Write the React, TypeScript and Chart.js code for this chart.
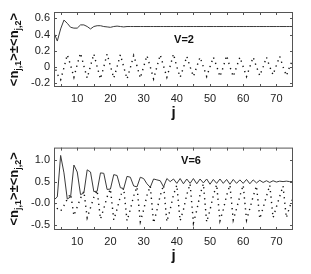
import React, { useEffect, useRef } from "react";
import { Chart, registerables } from "chart.js";

Chart.register(...registerables);

const J = [3, 4, 5, 6, 7, 8, 9, 10, 11, 12, 13, 14, 15, 16, 17, 18, 19, 20, 21, 22, 23, 24, 25, 26, 27, 28, 29, 30, 31, 32, 33, 34, 35, 36, 37, 38, 39, 40, 41, 42, 43, 44, 45, 46, 47, 48, 49, 50, 51, 52, 53, 54, 55, 56, 57, 58, 59, 60, 61, 62, 63, 64, 65, 66, 67, 68, 69, 70, 71, 72, 73, 74, 75];

// V=2
const V2_SUM = [0.42, 0.32, 0.47, 0.58, 0.54, 0.49, 0.48, 0.48, 0.52, 0.52, 0.5, 0.47, 0.5, 0.51, 0.51, 0.5, 0.495, 0.49, 0.5, 0.505, 0.5, 0.495,
  0.5, 0.5, 0.5, 0.5, 0.5, 0.5, 0.5, 0.5, 0.5, 0.5, 0.5, 0.5, 0.5, 0.5, 0.5, 0.5, 0.5, 0.5, 0.5, 0.5, 0.5, 0.5, 0.5, 0.5, 0.5, 0.5, 0.5, 0.5, 0.5,
  0.5, 0.5, 0.5, 0.5, 0.5, 0.5, 0.5, 0.5, 0.5, 0.5, 0.5, 0.5, 0.5, 0.5, 0.5, 0.5, 0.5, 0.5, 0.5, 0.5, 0.5, 0.5];
const V2_DIFF = [0.03, -0.09, -0.16, -0.01, 0.15, 0.02, -0.13, 0.03, 0.17, 0.01, -0.14, 0.01, 0.16, 0.0, -0.15, 0.0, 0.16, 0.01, -0.14, 0.0,
  0.15, 0.0, -0.15, -0.01, 0.14, 0.01, -0.14, 0.0, 0.14, 0.0, -0.15, 0.0, 0.15, 0.01, -0.13, 0.01, 0.16, 0.0, -0.13, -0.01,
  0.13, 0.0, -0.12, 0.0, 0.12, 0.0, -0.12, 0.0, 0.12, 0.01, -0.12, 0.0, 0.14, 0.0, -0.12, 0.0, 0.12, 0.0, -0.12, 0.0,
  0.12, 0.0, -0.11, 0.0, 0.12, 0.0, -0.1, 0.02, 0.13, 0.0, -0.11, 0.0, 0.1];

// V=6
const V6_SUM = [0.08, 0.15, 1.1, 0.7, 0.1, 0.15, 0.88, 0.72, 0.2, 0.24, 0.77, 0.72, 0.27, 0.28, 0.7, 0.69, 0.32, 0.33, 0.66, 0.64,
  0.36, 0.34, 0.62, 0.6, 0.4, 0.38, 0.6, 0.57, 0.45, 0.37, 0.56, 0.54, 0.52, 0.38, 0.57, 0.5, 0.56, 0.46, 0.57, 0.45,
  0.56, 0.46, 0.57, 0.45, 0.56, 0.47, 0.56, 0.44, 0.55, 0.46, 0.56, 0.46, 0.55, 0.44, 0.55, 0.46, 0.54, 0.46, 0.55, 0.45,
  0.54, 0.47, 0.53, 0.48, 0.52, 0.48, 0.52, 0.49, 0.51, 0.5, 0.51, 0.5, 0.5];
const V6_DIFF = [0.0, -0.12, -0.18, -0.05, 0.1, 0.22, -0.28, -0.08, 0.12, 0.28, -0.33, -0.1, 0.14, 0.3, -0.36, -0.12, 0.15, 0.33, -0.38, -0.13,
  0.16, 0.35, -0.4, -0.14, 0.17, 0.38, -0.42, -0.15, 0.18, 0.4, -0.45, -0.16, 0.18, 0.42, -0.42, -0.14, 0.2, 0.42, -0.4, -0.14,
  0.2, 0.45, -0.45, -0.16, 0.2, 0.45, -0.43, -0.15, 0.18, 0.43, -0.4, -0.14, 0.18, 0.42, -0.38, -0.12, 0.17, 0.42, -0.38, -0.12,
  0.16, 0.4, -0.35, -0.1, 0.16, 0.42, -0.33, -0.08, 0.16, 0.4, -0.33, -0.08, 0.12];

const X_TICKS = [10, 20, 30, 40, 50, 60, 70];
const X_MINOR = [5, 10, 15, 20, 25, 30, 35, 40, 45, 50, 55, 60, 65, 70, 75];
const Y2_TICKS = [-0.2, 0, 0.2, 0.4, 0.6];
const Y2_LABELS = ["-0.2", "0", "0.2", "0.4", "0.6"];
const Y6_TICKS = [-0.5, 0, 0.5, 1.0];
const Y6_LABELS = ["-0.5", "-0.0", "0.5", "1.0"];

const FONT = "'Liberation Sans', Arial, Helvetica, sans-serif";

type Cfg = {
  sum: number[];
  diff: number[];
  yMin: number;
  yMax: number;
  yTicks: number[];
  yLabels: string[];
  label: string;
  labelX: number;
  labelY: number;
  padTop: number;
  xAxisH: number;
};

function makeDecor(cfg: Cfg) {
  return {
    id: "decor",
    afterDraw(chart: any) {
      const { ctx, chartArea: a, scales } = chart;
      ctx.save();
      ctx.strokeStyle = "#555";
      ctx.lineWidth = 1;
      ctx.strokeRect(a.left + 0.5, a.top + 0.5, a.right - a.left - 1, a.bottom - a.top - 1);
      ctx.beginPath();
      for (const v of X_MINOR) {
        const px = Math.round(scales.x.getPixelForValue(v)) + 0.5;
        if (px <= a.left + 1 || px >= a.right - 1) continue;
        ctx.moveTo(px, a.bottom);
        ctx.lineTo(px, a.bottom - 3);
        ctx.moveTo(px, a.top);
        ctx.lineTo(px, a.top + 3);
      }
      for (const v of cfg.yTicks) {
        const py = Math.round(scales.y.getPixelForValue(v)) + 0.5;
        ctx.moveTo(a.left, py);
        ctx.lineTo(a.left + 3, py);
        ctx.moveTo(a.right, py);
        ctx.lineTo(a.right - 3, py);
      }
      ctx.stroke();

      // annotation
      ctx.fillStyle = "#111";
      ctx.font = `bold 11px ${FONT}`;
      ctx.textAlign = "center";
      ctx.textBaseline = "middle";
      ctx.fillText(cfg.label, cfg.labelX, cfg.labelY);

      // x title
      ctx.font = `bold 15px ${FONT}`;
      ctx.textBaseline = "top";
      ctx.fillText("j", (a.left + a.right) / 2, a.bottom + 18);

      // y title with subscripts
      const segs = [
        { t: "<n", sub: false },
        { t: "j,1", sub: true },
        { t: ">±<n", sub: false },
        { t: "j,2", sub: true },
        { t: ">", sub: false },
      ];
      const mainF = `bold 13px ${FONT}`;
      const subF = `bold 9px ${FONT}`;
      let total = 0;
      const widths = segs.map((s) => {
        ctx.font = s.sub ? subF : mainF;
        const w = ctx.measureText(s.t).width;
        total += w;
        return w;
      });
      ctx.translate(14, (a.top + a.bottom) / 2);
      ctx.rotate(-Math.PI / 2);
      ctx.textAlign = "left";
      ctx.textBaseline = "alphabetic";
      let x = -total / 2;
      segs.forEach((s, i) => {
        ctx.font = s.sub ? subF : mainF;
        ctx.fillText(s.t, x, s.sub ? 7 : 4);
        x += widths[i];
      });
      ctx.restore();
    },
  };
}

function Panel({ cfg, top }: { cfg: Cfg; top: number }) {
  const ref = useRef<HTMLCanvasElement | null>(null);
  useEffect(() => {
    if (!ref.current) return;
    const chart = new Chart(ref.current, {
      type: "line",
      data: {
        datasets: [
          {
            data: J.map((j, i) => ({ x: j, y: cfg.sum[i] })),
            borderColor: "#3a3a3a",
            borderWidth: 1,
            pointRadius: 0,
            tension: 0,
          },
          {
            data: J.map((j, i) => ({ x: j, y: cfg.diff[i] })),
            borderColor: "#111",
            borderWidth: 1.4,
            borderDash: [1.3, 4.2],
            pointRadius: 0,
            tension: 0,
          },
        ],
      },
      options: {
        responsive: false,
        animation: false,
        devicePixelRatio: 1,
        layout: { padding: { top: cfg.padTop, right: 18, left: 0, bottom: 0 } },
        plugins: { legend: { display: false }, tooltip: { enabled: false } },
        scales: {
          x: {
            type: "linear",
            min: 3,
            max: 75,
            grid: { display: false, drawTicks: false },
            border: { display: false },
            afterBuildTicks: (s: any) => {
              s.ticks = X_TICKS.map((v) => ({ value: v }));
            },
            afterFit: (s: any) => {
              s.height = cfg.xAxisH;
            },
            ticks: {
              padding: 5,
              color: "#222",
              font: { family: FONT, size: 11 },
              maxRotation: 0,
              autoSkip: false,
              callback: (v: any) => String(v),
            },
          },
          y: {
            type: "linear",
            min: cfg.yMin,
            max: cfg.yMax,
            grid: { display: false, drawTicks: false },
            border: { display: false },
            afterBuildTicks: (s: any) => {
              s.ticks = cfg.yTicks.map((v) => ({ value: v }));
            },
            afterFit: (s: any) => {
              s.width = 54;
            },
            ticks: {
              padding: 4,
              color: "#222",
              font: { family: FONT, size: 11 },
              autoSkip: false,
              callback: (v: any) => {
                const i = cfg.yTicks.findIndex((t) => Math.abs(t - v) < 1e-9);
                return i >= 0 ? cfg.yLabels[i] : "";
              },
            },
          },
        },
      } as any,
      plugins: [makeDecor(cfg)],
    });
    return () => chart.destroy();
  }, []);
  return (
    <canvas
      ref={ref}
      width={311}
      height={137}
      style={{ position: "absolute", left: 0, top, width: 311, height: 137 }}
    />
  );
}

const TOP: Cfg = {
  sum: V2_SUM,
  diff: V2_DIFF,
  yMin: -0.25,
  yMax: 0.68,
  yTicks: Y2_TICKS,
  yLabels: Y2_LABELS,
  label: "V=2",
  labelX: 184,
  labelY: 40,
  padTop: 12,
  xAxisH: 50,
};

const BOTTOM: Cfg = {
  sum: V6_SUM,
  diff: V6_DIFF,
  yMin: -0.61,
  yMax: 1.28,
  yTicks: Y6_TICKS,
  yLabels: Y6_LABELS,
  label: "V=6",
  labelX: 191,
  labelY: 24,
  padTop: 4,
  xAxisH: 44,
};

export default function App() {
  return (
    <div style={{ position: "absolute", left: 0, top: 0, width: 311, height: 274, background: "#fff" }}>
      <Panel cfg={TOP} top={0} />
      <Panel cfg={BOTTOM} top={137} />
    </div>
  );
}
